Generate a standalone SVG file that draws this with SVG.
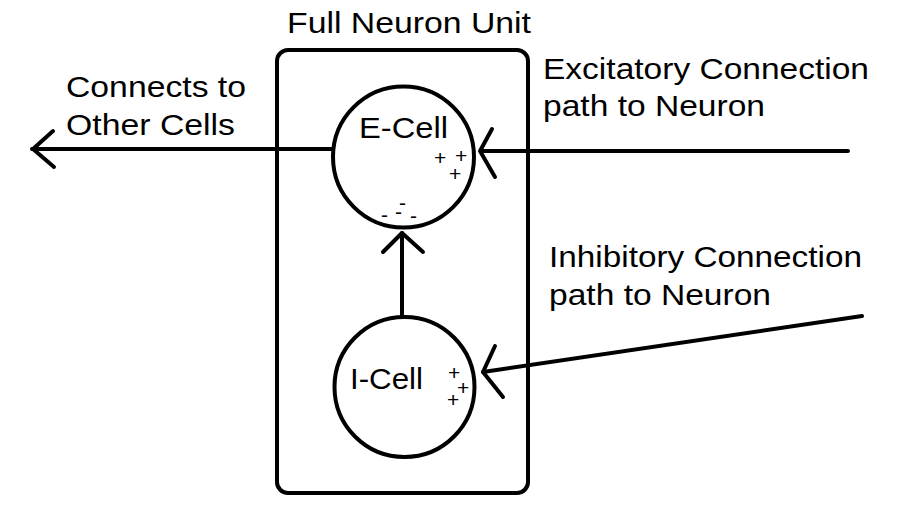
<svg xmlns="http://www.w3.org/2000/svg" width="916" height="524" viewBox="0 0 916 524">
<style>
.s{fill:none;stroke:#000;stroke-width:4;stroke-linecap:round;stroke-linejoin:round}
.t{font-family:"Liberation Sans",Arial,sans-serif;font-size:30px;fill:#000}
.p{font-family:"Liberation Sans",Arial,sans-serif;font-size:21px;fill:#000}
</style>
<rect width="916" height="524" fill="#fff"/>
<g id="unit">
<rect class="s" x="277" y="50" width="251" height="443" rx="11"/>
<text class="t" x="287" y="33" textLength="244" lengthAdjust="spacingAndGlyphs">Full Neuron Unit</text>
</g>
<g id="e-cell">
<circle class="s" cx="403.5" cy="157" r="70.5"/>
<text class="t" x="359" y="138" textLength="89" lengthAdjust="spacingAndGlyphs">E-Cell</text>
<text class="p"><tspan x="434" y="165">+</tspan><tspan x="455" y="163">+</tspan><tspan x="449" y="181">+</tspan></text>
<text class="p"><tspan x="399" y="210">-</tspan><tspan x="381" y="222">-</tspan><tspan x="395" y="219">-</tspan><tspan x="410" y="223">-</tspan></text>
</g>
<g id="i-cell">
<circle class="s" cx="404.5" cy="387" r="70"/>
<text class="t" x="350" y="389" textLength="73" lengthAdjust="spacingAndGlyphs">I-Cell</text>
<text class="p"><tspan x="448" y="380">+</tspan><tspan x="457" y="395">+</tspan><tspan x="447" y="407">+</tspan></text>
</g>
<g id="labels">
<text class="t" x="66" y="97" textLength="180" lengthAdjust="spacingAndGlyphs">Connects to</text>
<text class="t" x="66" y="135" textLength="169" lengthAdjust="spacingAndGlyphs">Other Cells</text>
<text class="t" x="543" y="79" textLength="326" lengthAdjust="spacingAndGlyphs">Excitatory Connection</text>
<text class="t" x="543" y="116" textLength="222" lengthAdjust="spacingAndGlyphs">path to Neuron</text>
<text class="t" x="549" y="267" textLength="313" lengthAdjust="spacingAndGlyphs">Inhibitory Connection</text>
<text class="t" x="549" y="305" textLength="222" lengthAdjust="spacingAndGlyphs">path to Neuron</text>
</g>
<g id="connectors">
<line class="s" x1="32" y1="149" x2="333" y2="149"/>
<polyline class="s" points="53,131 33,149 54,167"/>
<line class="s" x1="481" y1="151" x2="848" y2="151"/>
<polyline class="s" points="492,129 480,151 495,177"/>
<line class="s" x1="402" y1="233" x2="402" y2="317"/>
<polyline class="s" points="383,252 402,233 423,252"/>
<line class="s" x1="483" y1="372" x2="862" y2="316"/>
<polyline class="s" points="495,346 483,372 503,397"/>
</g>
</svg>
